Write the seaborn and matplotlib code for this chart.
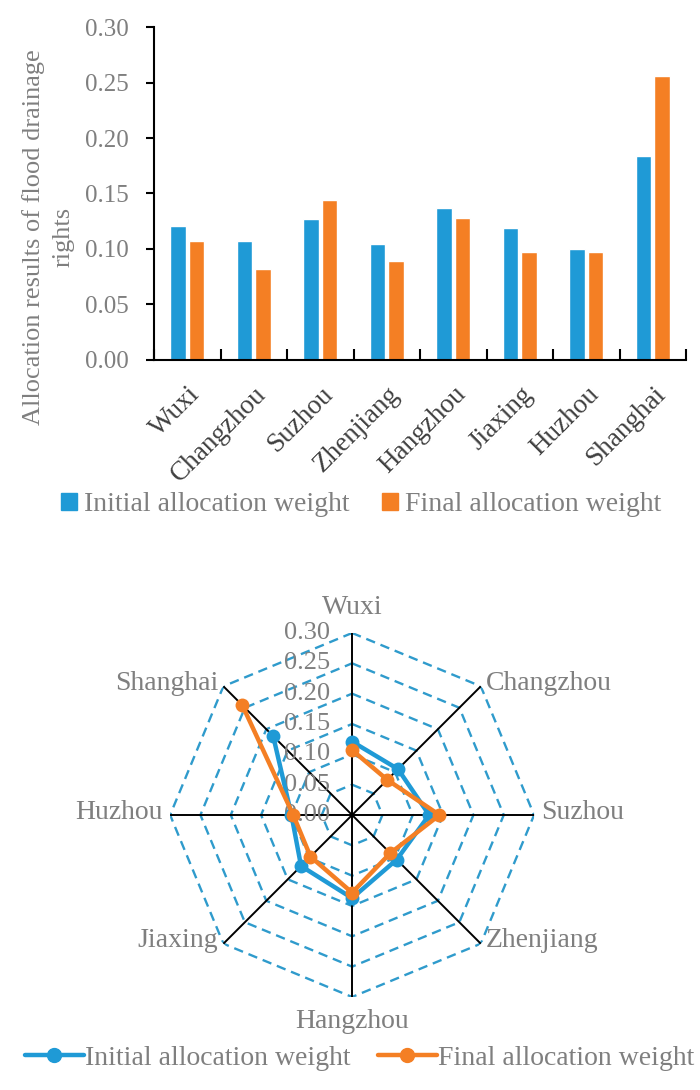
import numpy as np
import pandas as pd
import matplotlib
matplotlib.use("Agg")
import matplotlib.pyplot as plt
from matplotlib.lines import Line2D
from matplotlib.patches import Patch
from matplotlib.transforms import offset_copy
import seaborn as sns

# data
cities = ["Wuxi", "Changzhou", "Suzhou", "Zhenjiang",
          "Hangzhou", "Jiaxing", "Huzhou", "Shanghai"]
initial_weight = [0.121, 0.107, 0.127, 0.104, 0.137, 0.119, 0.100, 0.184]
final_weight = [0.107, 0.082, 0.144, 0.089, 0.128, 0.097, 0.097, 0.256]
series_names = ["Initial allocation weight", "Final allocation weight"]
y_ticks = [0.00, 0.05, 0.10, 0.15, 0.20, 0.25, 0.30]

BLUE = "#1f9ad6"
ORANGE = "#f47f24"
RING = "#2f9bcc"
GRAY = "#7f7f7f"
DARK = "#404040"

sns.set_theme(style="white")
plt.rcParams["font.family"] = ["Liberation Serif", "DejaVu Serif"]

df = pd.DataFrame({
    "City": cities * 2,
    "Weight": initial_weight + final_weight,
    "Series": [series_names[0]] * len(cities) + [series_names[1]] * len(cities),
})

fig = plt.figure(figsize=(7, 10.9), dpi=100)

# ---- bar chart ----
ax = fig.add_axes([0.22, 0.67, 0.76, 0.305])
sns.barplot(data=df, x="City", y="Weight", hue="Series", order=cities,
            hue_order=series_names, palette=[BLUE, ORANGE],
            width=0.55, gap=0.15, ax=ax, legend=False, saturation=1)
ax.set_xlim(-0.5, len(cities) - 0.5)
ax.set_ylim(0, 0.30)
ax.set_yticks(y_ticks)
ax.set_yticklabels([f"{v:.2f}" for v in y_ticks], color=GRAY, fontsize=18)
ax.set_xticks(range(len(cities)))
ax.set_xticklabels(cities, rotation=45, ha="right", rotation_mode="anchor",
                   color=DARK, fontsize=19.5)
ax.tick_params(axis="x", which="major", length=0, pad=16)
ax.set_xticks(np.arange(-0.5, len(cities)), minor=True)
ax.tick_params(axis="x", which="minor", direction="in", length=8, width=1.5,
               color="black", bottom=True)
ax.tick_params(axis="y", direction="out", length=6, width=1.5, color="black",
               left=True, pad=12)
for side in ["top", "right"]:
    ax.spines[side].set_visible(False)
for side in ["left", "bottom"]:
    ax.spines[side].set_color("black")
    ax.spines[side].set_linewidth(1.5)
ax.set_xlabel("")
ax.set_ylabel("Allocation results of flood drainage\nrights", color=GRAY,
              fontsize=19, linespacing=1.4)
ax.yaxis.set_label_coords(-0.15, 0.37)

bar_handles = [Patch(color=BLUE), Patch(color=ORANGE)]
fig.legend(bar_handles, series_names, loc="center", ncol=2,
           bbox_to_anchor=(0.516, 0.537), frameon=False, fontsize=20,
           labelcolor=GRAY, handlelength=0.55, handleheight=0.55,
           handletextpad=0.25, columnspacing=1.2)

# ---- radar chart ----
angles = np.arange(len(cities)) * 2 * np.pi / len(cities)
closed_angles = np.append(angles, angles[0])

rax = fig.add_axes([0.243, 0.0853, 0.52, 0.334], projection="polar")
rax.set_theta_offset(np.pi / 2)
rax.set_theta_direction(-1)
rax.set_ylim(0, 0.30)
rax.grid(False)
rax.set_xticks([])
rax.set_yticks([])
rax.spines["polar"].set_visible(False)
rax.patch.set_alpha(0)

for r in y_ticks[1:]:
    rax.plot(closed_angles, [r] * len(closed_angles), ls=(0, (4, 2.5)),
             color=RING, lw=1.7, zorder=1)
for a in angles:
    rax.plot([a, a], [0, 0.30], color="black", lw=1.4, zorder=2)

lbl_tr = offset_copy(rax.transData, fig=fig, x=-16, y=0, units="points")
for r in y_ticks:
    rax.text(0, r, f"{r:.2f}", transform=lbl_tr, ha="right", va="center",
             color=GRAY, fontsize=19, zorder=3)

for a, name in zip(angles, cities):
    s, c = np.sin(a), np.cos(a)
    ha = "center" if abs(s) < 1e-6 else ("left" if s > 0 else "right")
    if abs(s) > 1e-6:
        va = "center"
    else:
        va = "bottom" if c > 0 else "top"
    tr = offset_copy(rax.transData, fig=fig, x=5 * s,
                     y=9 * c if abs(s) < 1e-6 else 2, units="points")
    rax.text(a, 0.30, name, transform=tr, ha=ha, va=va, color=GRAY,
             fontsize=20)

for vals, color in [(initial_weight, BLUE), (final_weight, ORANGE)]:
    closed_vals = np.append(vals, vals[0])
    sns.lineplot(x=closed_angles, y=closed_vals, sort=False, ax=rax,
                 color=color, lw=3.2, marker="o", markersize=10,
                 markeredgewidth=0, zorder=5)

radar_handles = [Line2D([], [], color=BLUE, lw=3.2, marker="o", markersize=10),
                 Line2D([], [], color=ORANGE, lw=3.2, marker="o", markersize=10)]
fig.legend(radar_handles, series_names, loc="center", ncol=2,
           bbox_to_anchor=(0.514, 0.029), frameon=False, fontsize=20,
           labelcolor=GRAY, handlelength=2.1, handletextpad=0.05,
           columnspacing=1.0)

fig.savefig("out.png", dpi=100)
